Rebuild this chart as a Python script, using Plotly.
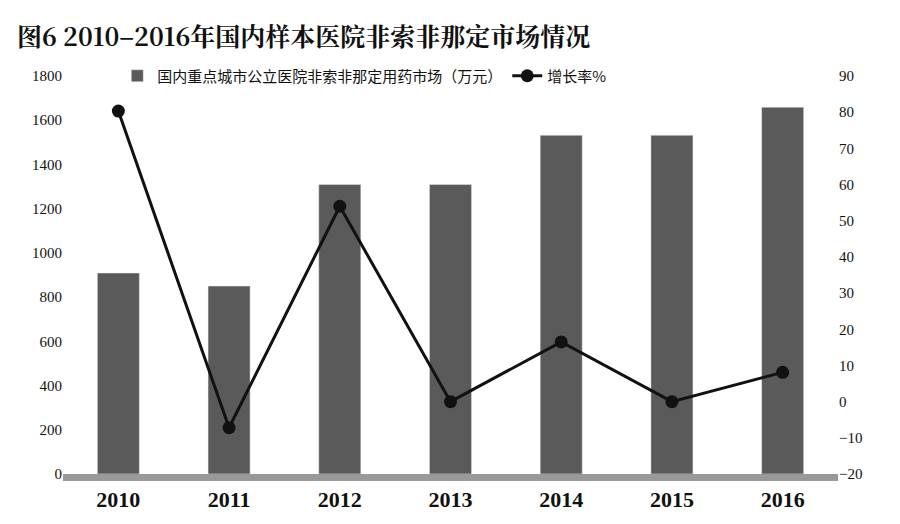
import plotly.graph_objects as go

years = ["2010", "2011", "2012", "2013", "2014", "2015", "2016"]
market = [909, 850, 1309, 1309, 1532, 1532, 1659]
growth = [80.3, -7.2, 54.0, 0.0, 16.5, 0.0, 8.1]

fig = go.Figure()
fig.add_trace(go.Bar(x=years, y=market, name="国内重点城市公立医院非索非那定用药市场（万元）",
                     marker_color="#5a5a5a", width=0.38))
fig.add_trace(go.Scatter(x=years, y=growth, name="增长率%", yaxis="y2", mode="lines+markers",
                         line=dict(color="#111", width=3), marker=dict(size=13, color="#111")))
fnt = "Noto Sans CJK SC"
fig.update_layout(
    width=900, height=524, paper_bgcolor="white", plot_bgcolor="white",
    margin=dict(l=55, r=70, t=68, b=58),
    title=dict(text="<b>图6 2010–2016年国内样本医院非索非那定市场情况</b>", x=0.01, y=0.945,
               xanchor="left", yanchor="middle", font=dict(family="Noto Serif CJK SC, " + fnt, size=25, color="#111")),
    font=dict(family="Liberation Serif", color="#111"),
    xaxis=dict(tickfont=dict(size=22, family="Liberation Serif", color="#111"), showline=True,
               linecolor="#999", linewidth=7, ticks="", tickprefix="<b>", ticksuffix="</b>"),
    yaxis=dict(range=[0, 1800], dtick=200, showgrid=False, tickfont=dict(size=15), zeroline=False),
    yaxis2=dict(range=[-20, 90], dtick=10, overlaying="y", side="right", showgrid=False,
                tickfont=dict(size=15), zeroline=False),
    legend=dict(orientation="h", x=0.07, y=1.0, xanchor="left", yanchor="middle",
                font=dict(family=fnt, size=15), bgcolor="rgba(0,0,0,0)"),
    bargap=0.5,
)
fig.write_html("out.html")
